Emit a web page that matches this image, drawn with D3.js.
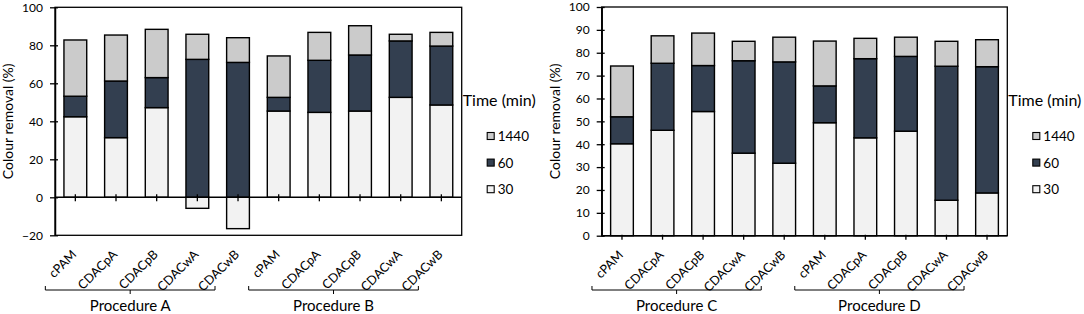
<!DOCTYPE html>
<html>
<head>
<meta charset="utf-8">
<script src="https://cdn.jsdelivr.net/npm/d3@7"></script>
<style>
  body { margin: 0; background: #fff; }
  text { font-family: Lato, "Open Sans", sans-serif; fill: #000; }
</style>
</head>
<body>
<div id="chart"></div>
<script>
// categories (same five flocculants repeated for each procedure)
const flocculants = ["cPAM", "CDACpA", "CDACpB", "CDACwA", "CDACwB"]
const times = ["30", "60", "1440"]
const legendOrder = ["1440", "60", "30"]

// left panel: Procedure A + Procedure B (increment per time step)
const leftGroups = ["Procedure A", "Procedure B"]
const left30   = [42.4, 31.4, 47.2, -5.8, -16.5, 45.4, 44.7, 45.4, 52.6, 48.6]
const left60   = [10.8, 29.8, 15.8, 72.6, 71.0, 7.2, 27.4, 29.5, 29.7, 31.0]
const left1440 = [29.6, 24.2, 25.4, 13.2, 13.0, 21.8, 14.7, 15.4, 3.5, 7.2]
const leftTicks = [-20, 0, 20, 40, 60, 80, 100]

// right panel: Procedure C + Procedure D
const rightGroups = ["Procedure C", "Procedure D"]
const right30   = [40.2, 46.1, 54.3, 36.1, 31.7, 49.4, 42.8, 45.7, 15.5, 18.7]
const right60   = [11.8, 29.3, 20.1, 40.4, 44.3, 16.1, 34.6, 32.7, 58.6, 55.2]
const right1440 = [22.2, 12.0, 14.2, 8.5, 10.8, 19.6, 8.9, 8.4, 10.9, 11.8]
const rightTicks = [0, 10, 20, 30, 40, 50, 60, 70, 80, 90, 100]

const colors = {"30": "#f2f2f2", "60": "#333f50", "1440": "#cbcbcb"}

const svg = d3.select("#chart").append("svg")
    .attr("width", 1084)
    .attr("height", 314)

function rows(s30, s60, s1440) {
    return s30.map((v, i) => ({i: i, "30": v, "60": s60[i], "1440": s1440[i]}))
}

function panel(opt) {
    const g = svg.append("g")
    const data = rows(opt.s30, opt.s60, opt.s1440)
    const labels = opt.groups.flatMap(() => flocculants)

    const x = d3.scaleBand()
        .domain(d3.range(labels.length))
        .range([opt.left, opt.right])
        .paddingInner(0.44)
        .paddingOuter(0.22)
    const y = d3.scaleLinear()
        .domain(d3.extent(opt.ticks))
        .range([opt.bottom, opt.top])

    const stack = d3.stack().keys(times).offset(d3.stackOffsetDiverging)(data)

    // frame
    g.append("rect")
        .attr("x", opt.left).attr("y", opt.top)
        .attr("width", opt.right - opt.left).attr("height", opt.bottom - opt.top)
        .attr("fill", "none").attr("stroke", "#000").attr("stroke-width", 1.3)

    // bars
    g.selectAll("g.series").data(stack).join("g")
        .attr("fill", d => colors[d.key])
        .selectAll("rect").data(d => d).join("rect")
            .attr("x", d => x(d.data.i))
            .attr("width", x.bandwidth())
            .attr("y", d => y(Math.max(d[0], d[1])))
            .attr("height", d => Math.abs(y(d[0]) - y(d[1])))
            .attr("stroke", "#000")
            .attr("stroke-width", 1.4)

    // y axis
    const ya = g.append("g")
        .attr("transform", `translate(${opt.left},0)`)
        .call(d3.axisLeft(y).tickValues(opt.ticks).tickSize(0).tickPadding(12))
    ya.select(".domain").attr("stroke-width", 1.5)
    ya.selectAll(".tick line").attr("x1", -5).attr("x2", 3).attr("stroke-width", 1.3)
    ya.selectAll(".tick text").style("font-size", "12px").style("font-family", "Lato")

    // category axis at zero
    const y0 = y(0)
    g.append("line")
        .attr("x1", opt.left).attr("x2", opt.right)
        .attr("y1", y0).attr("y2", y0)
        .attr("stroke", "#000").attr("stroke-width", 1.5)
    g.selectAll("line.ctick").data(labels).join("line")
        .attr("class", "ctick")
        .attr("x1", (d, i) => x(i) + x.bandwidth() / 2)
        .attr("x2", (d, i) => x(i) + x.bandwidth() / 2)
        .attr("y1", y0 + opt.tickUp)
        .attr("y2", y0 + 4)
        .attr("stroke", "#000").attr("stroke-width", 1.3)

    g.selectAll("text.cat").data(labels).join("text")
        .attr("class", "cat")
        .attr("text-anchor", "end")
        .attr("transform", (d, i) => `translate(${x(i) + x.bandwidth() / 2 + 2},${opt.bottom + 20}) rotate(-45)`)
        .style("font-size", "12.5px")
        .text(d => d)

    // procedure brackets
    opt.groups.forEach((name, k) => {
        const first = k * flocculants.length
        const last = first + flocculants.length - 1
        const x1 = x(first) + x.bandwidth() / 2 - 30
        const x2 = x(last) + x.bandwidth() / 2 - 23
        const xm = (x1 + x2) / 2
        const by = 290
        g.append("path")
            .attr("d", `M${x1},${by - 4}V${by}H${x2}V${by - 4}M${xm},${by}V${by + 4}`)
            .attr("fill", "none").attr("stroke", "#000").attr("stroke-width", 1)
        g.append("text")
            .attr("x", xm).attr("y", 311)
            .attr("text-anchor", "middle")
            .style("font-size", "15px")
            .text(name)
    })

    // y title
    g.append("text")
        .attr("transform", `translate(${opt.left - 42},${(opt.top + opt.bottom) / 2}) rotate(-90)`)
        .attr("text-anchor", "middle")
        .style("font-size", "14px")
        .text("Colour removal (%)")

    // legend
    const lg = g.append("g").attr("transform", `translate(${opt.right + 1},0)`)
    lg.append("text")
        .attr("x", 0).attr("y", 106)
        .style("font-size", "16px")
        .text("Time (min)")
    legendOrder.forEach((key, k) => {
        const ly = 136 + k * 26.6
        lg.append("rect")
            .attr("x", 24.5).attr("y", ly - 3.5)
            .attr("width", 7).attr("height", 7)
            .attr("fill", colors[key]).attr("stroke", "#000").attr("stroke-width", 1.1)
        lg.append("text")
            .attr("x", 35).attr("y", ly + 5)
            .style("font-size", "13.5px")
            .text(key)
    })
}

panel({left: 55, right: 461.7, top: 7.3, bottom: 235.3, ticks: leftTicks, tickUp: -3,
       groups: leftGroups, s30: left30, s60: left60, s1440: left1440})
panel({left: 601.7, right: 1007.3, top: 7, bottom: 235.7, ticks: rightTicks, tickUp: -1,
       groups: rightGroups, s30: right30, s60: right60, s1440: right1440})
</script>
</body>
</html>
